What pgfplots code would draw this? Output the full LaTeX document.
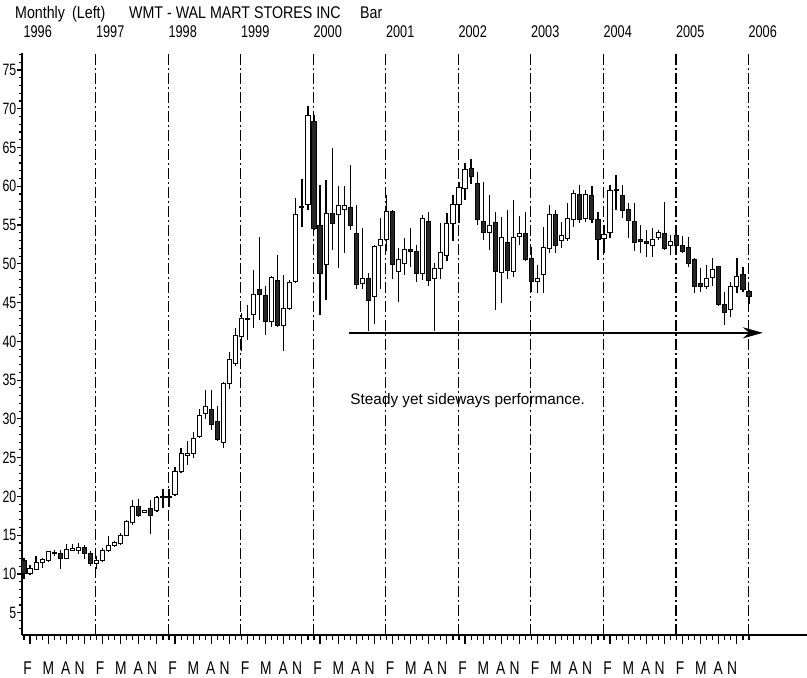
\documentclass[border=0pt]{standalone}
\usepackage{fontspec}
\setmainfont{Liberation Sans}
\newfontfamily\narrow{Liberation Sans}[FakeStretch=0.75]
\newfontfamily\titlefont{Liberation Sans}[FakeStretch=0.84]
\usepackage{pgfplots}
\pgfplotsset{compat=1.18}
\usepackage{pgfplotstable}
\usetikzlibrary{arrows.meta}

\pgfplotstableread{
m o h l c
0 11.8 12.0 9.4 10.1
1 10.1 11.2 9.9 10.7
2 10.6 12.3 10.5 11.5
3 11.5 12.0 10.8 11.9
4 11.8 13.0 11.6 12.9
5 12.6 13.1 12.3 12.8
6 12.7 13.1 10.7 12.0
7 12.0 13.9 12.0 13.2
8 13.0 13.9 12.9 13.3
9 13.0 14.0 12.6 13.4
10 13.4 13.7 11.9 12.6
11 12.6 12.9 11.0 11.3
12 11.3 12.3 10.7 11.8
13 11.8 13.3 11.6 13.0
14 13.0 14.9 12.8 13.7
15 13.7 14.3 13.5 14.0
16 13.9 15.3 13.8 14.9
17 14.9 16.9 14.9 16.8
18 16.6 19.6 16.3 18.7
19 18.7 19.7 17.3 17.6
20 17.9 18.3 17.8 18.2
21 18.4 19.6 15.1 17.5
22 18.2 20.1 18.0 19.9
23 19.9 20.9 18.5 20.0
24 20.0 20.9 18.6 19.9
25 20.2 23.8 20.0 23.2
26 23.2 26.3 23.0 25.5
27 25.3 27.1 24.1 25.5
28 25.5 28.3 25.0 27.5
29 27.7 31.3 27.6 30.5
30 30.7 33.7 30.0 31.6
31 31.2 33.7 28.6 29.3
32 29.7 31.6 27.1 27.3
33 26.9 34.7 26.3 34.6
34 34.6 38.6 33.9 37.7
35 37.2 41.7 36.8 40.7
36 40.6 43.7 38.8 43.0
37 43.0 44.7 40.2 42.8
38 43.4 49.2 41.7 46.0
39 46.7 53.5 42.8 46.0
40 45.9 47.1 40.8 42.5
41 42.5 48.4 41.9 48.3
42 47.9 51.1 41.9 42.1
43 42.1 48.6 38.7 44.3
44 44.3 47.9 44.0 47.6
45 47.7 58.5 47.5 56.3
46 57.4 61.0 54.8 57.2
47 57.7 70.4 56.9 69.1
48 68.3 69.2 54.4 54.6
49 55.0 60.2 43.4 48.8
50 49.9 60.8 45.3 56.5
51 56.5 64.9 51.8 55.2
52 56.3 60.0 49.4 57.5
53 57.0 60.0 51.4 57.5
54 57.2 62.8 54.4 55.0
55 53.9 57.6 46.8 47.3
56 47.5 54.6 46.8 48.1
57 48.1 48.8 41.3 45.3
58 45.8 52.4 42.3 52.2
59 52.4 55.9 46.8 53.1
60 53.1 58.9 51.6 56.7
61 56.7 56.9 48.1 49.9
62 49.0 52.0 45.1 50.5
63 50.1 53.3 48.6 51.8
64 51.8 54.6 49.6 51.6
65 51.6 52.4 47.7 48.8
66 48.8 56.3 47.9 55.9
67 55.4 56.7 47.1 47.9
68 48.1 50.1 41.3 49.4
69 49.4 55.2 48.1 51.4
70 51.1 56.5 50.3 55.2
71 55.2 58.9 52.9 57.6
72 57.6 60.6 55.2 59.9
73 59.7 63.0 58.2 62.1
74 62.3 63.5 60.3 61.3
75 60.3 61.9 55.0 55.7
76 55.4 60.6 53.1 54.0
77 54.0 58.9 51.8 55.0
78 55.3 56.7 44.0 49.0
79 48.9 56.1 44.9 53.4
80 52.7 57.0 48.1 49.2
81 49.0 58.2 48.3 53.4
82 53.5 56.2 52.4 53.9
83 53.9 56.7 50.3 50.5
84 50.7 52.2 46.4 47.7
85 47.7 49.9 46.2 48.1
86 48.6 54.8 46.2 52.1
87 52.0 57.6 51.4 56.3
88 56.3 56.9 51.4 52.4
89 53.0 55.4 52.0 53.6
90 53.3 57.8 52.9 55.9
91 55.7 59.5 54.8 59.1
92 58.9 60.2 55.2 55.7
93 55.9 59.5 55.4 58.9
94 58.8 60.0 55.2 55.7
95 55.7 56.7 50.5 53.1
96 53.3 55.0 51.4 53.8
97 54.0 60.2 53.3 59.4
98 59.6 61.5 56.9 59.4
99 58.8 60.2 55.9 56.9
100 57.0 57.8 53.3 55.6
101 55.5 57.8 51.6 52.7
102 53.1 55.0 51.4 52.9
103 52.9 54.4 50.9 52.6
104 52.4 54.6 50.9 53.1
105 53.4 54.4 53.1 54.0
106 53.9 58.0 51.8 52.0
107 52.3 53.7 51.1 52.9
108 53.7 54.8 51.4 52.4
109 52.4 53.6 51.4 51.6
110 52.1 53.5 49.6 50.0
111 50.5 50.7 46.2 47.1
112 47.5 49.4 46.4 47.1
113 47.1 49.9 46.8 48.1
114 48.3 50.7 47.1 49.3
115 49.6 49.7 44.5 44.7
116 44.8 46.4 42.1 43.7
117 44.1 47.7 43.2 47.1
118 47.1 50.8 46.2 48.4
119 48.6 49.6 46.4 46.7
120 46.4 46.6 44.8 45.8
}\wmt

\pgfplotsset{
  wmtbase/.style={
    scale only axis, width=785bp, height=582bp,
    xmin=-0.33, xmax=129.6, ymin=2.13, ymax=77.19,
    at={(22bp,43bp)}, anchor=south west, clip=false,
    tick align=outside,
    every tick/.style={black, line width=1.1bp},
    axis line style={-, black},
  },
}
\tikzset{
  yr/.style={anchor=base west, inner sep=0pt, yshift=15bp, font=\narrow\fontsize{17}{17}\selectfont},
  lbl/.style={anchor=base, inner sep=0pt, yshift=-39bp, font=\narrow\fontsize{18.5}{18.5}\selectfont},
  yrline/.style={black, line width=1.2bp, dash pattern=on 11bp off 3bp on 2bp off 3bp},
  ttl/.style={anchor=base west, inner sep=0pt, font=\titlefont\fontsize{17}{17}\selectfont},
}

\begin{document}
\begin{tikzpicture}
\useasboundingbox (0,0) rectangle (807bp,678bp);

% underlay axis: x axis, ticks, wicks, year lines, annotations
\begin{axis}[wmtbase,
  axis x line*=bottom, axis y line=none,
  x axis line style={line width=2.4bp},
  xtick={1,4,...,118}, xticklabel={\hbox{}},
  minor xtick={0,...,120},
  major tick length=9bp, minor tick length=5bp,
  ytick=\empty,
]
\draw[yrline] (axis cs:11.9,2.13) -- (axis cs:11.9,77.19);
\draw[yrline] (axis cs:23.9,2.13) -- (axis cs:23.9,77.19);
\draw[yrline] (axis cs:35.9,2.13) -- (axis cs:35.9,77.19);
\draw[yrline] (axis cs:47.9,2.13) -- (axis cs:47.9,77.19);
\draw[yrline] (axis cs:59.9,2.13) -- (axis cs:59.9,77.19);
\draw[yrline] (axis cs:71.9,2.13) -- (axis cs:71.9,77.19);
\draw[yrline] (axis cs:83.9,2.13) -- (axis cs:83.9,77.19);
\draw[yrline] (axis cs:95.9,2.13) -- (axis cs:95.9,77.19);
\draw[yrline] (axis cs:107.9,2.13) -- (axis cs:107.9,77.19);
\draw[yrline] (axis cs:119.9,2.13) -- (axis cs:119.9,77.19);

\addplot[draw=none, mark=none,
  error bars/.cd, y dir=minus, y explicit, error mark=none,
  error bar style={draw=black, line width=1.2bp}]
  table[x=m, y=h, y error expr={\thisrow{h}-\thisrow{l}}] {\wmt};

\draw[black, line width=2.5bp, -{Stealth[length=20bp, width=11bp]}]
  (axis cs:53.8,41.1) -- (axis cs:122.3,41.1);
\node[anchor=base west, inner sep=0pt, font=\fontsize{15.4}{16}\selectfont]
  at (axis cs:54,31.8) {Steady yet sideways performance.};

\node[yr] at (axis cs:-0.1,77.19) {1996};
\node[yr] at (axis cs:11.9,77.19) {1997};
\node[yr] at (axis cs:23.9,77.19) {1998};
\node[yr] at (axis cs:35.9,77.19) {1999};
\node[yr] at (axis cs:47.9,77.19) {2000};
\node[yr] at (axis cs:59.9,77.19) {2001};
\node[yr] at (axis cs:71.9,77.19) {2002};
\node[yr] at (axis cs:83.9,77.19) {2003};
\node[yr] at (axis cs:95.9,77.19) {2004};
\node[yr] at (axis cs:107.9,77.19) {2005};
\node[yr] at (axis cs:119.9,77.19) {2006};

\pgfplotsinvokeforeach{0,...,9}{
  \node[lbl] at (axis cs:{12*#1+0.6},2.13) {F};
  \node[lbl] at (axis cs:{12*#1+4.05},2.13) {M};
  \node[lbl] at (axis cs:{12*#1+6.9},2.13) {A};
  \node[lbl] at (axis cs:{12*#1+9.2},2.13) {N};
}
\end{axis}

% overlay axis: candle bodies and y axis
\begin{axis}[wmtbase,
  axis x line=none, axis y line*=left,
  y axis line style={line width=1.3bp},
  xtick=\empty,
  ytick={5,10,...,75}, minor ytick={3,...,77},
  major tick length=5bp, minor tick length=3bp,
  yticklabel style={font=\narrow\fontsize{16.5}{16.5}\selectfont, inner sep=0.5bp},
  /pgf/number format/assume math mode=true,
  ybar stacked, bar width=0.68,
]
\addplot[draw=none, fill=none] table[x=m, y expr={min(\thisrow{o},\thisrow{c})}] {\wmt};
\addplot[draw=black, fill=white, line width=1bp] table[x=m, y expr={max(\thisrow{c}-\thisrow{o},0)}] {\wmt};
\addplot[draw=black, fill=black!85, line width=1bp] table[x=m, y expr={max(\thisrow{o}-\thisrow{c},0)}] {\wmt};
\end{axis}

\node[ttl] at (15bp,659bp) {Monthly};
\node[ttl] at (72bp,659bp) {(Left)};
\node[ttl] at (129bp,659bp) {WMT - WAL MART STORES INC};
\node[ttl] at (360bp,659bp) {Bar};
\end{tikzpicture}
\end{document}
